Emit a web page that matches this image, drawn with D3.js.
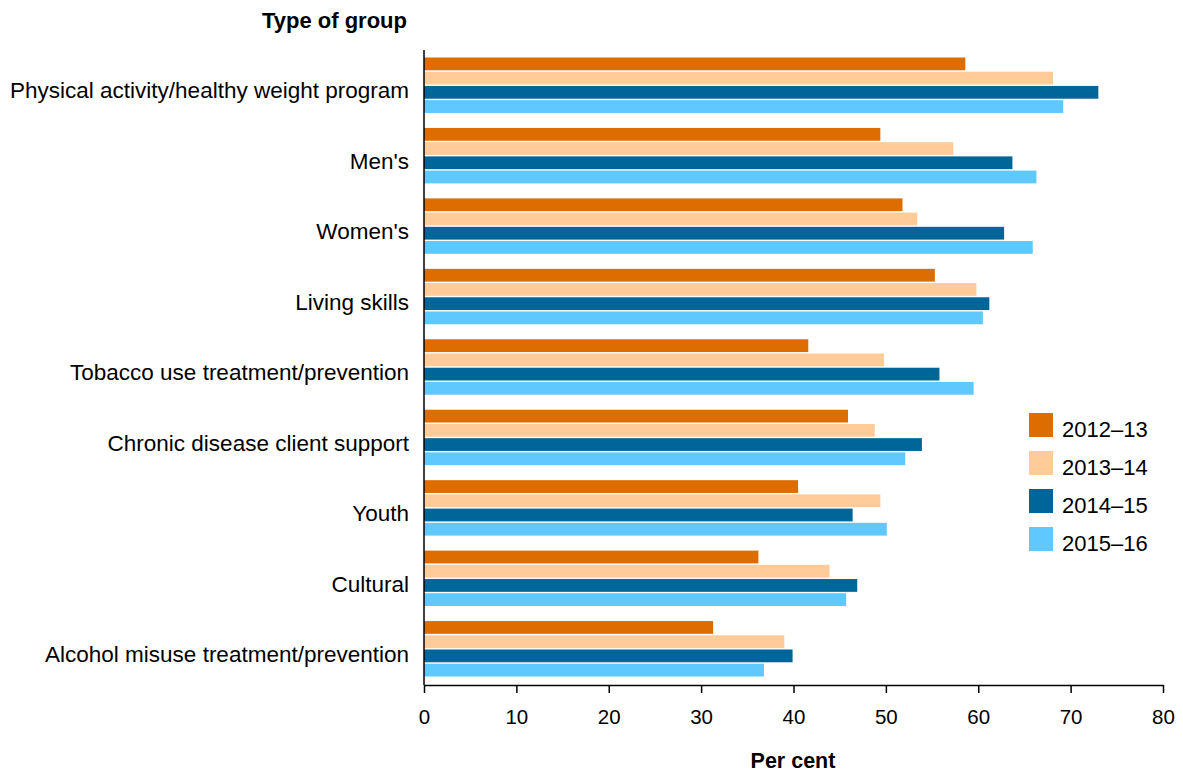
<!DOCTYPE html>
<html>
<head>
<meta charset="utf-8">
<title>Type of group</title>
<style>
body, html {
  margin: 0;
  background: #fff;
}
svg {
  font-family: "Liberation Sans", Arial, sans-serif;
}
.axis path, .axis line {
  stroke: #000;
  stroke-width: 1.5px;
}
.axis text {
  fill: #000;
}
</style>
</head>
<body>
<script src="https://cdn.jsdelivr.net/npm/d3@7/dist/d3.min.js"></script>
<script>
// data
var categories = [
  "Physical activity/healthy weight program",
  "Men's",
  "Women's",
  "Living skills",
  "Tobacco use treatment/prevention",
  "Chronic disease client support",
  "Youth",
  "Cultural",
  "Alcohol misuse treatment/prevention"
];
var years = ["2012\u201313", "2013\u201314", "2014\u201315", "2015\u201316"];
var v2012 = [58.6, 49.4, 51.8, 55.3, 41.6, 45.9, 40.5, 36.2, 31.3];
var v2013 = [68.1, 57.3, 53.4, 59.8, 49.8, 48.8, 49.4, 43.9, 39.0];
var v2014 = [73.0, 63.7, 62.8, 61.2, 55.8, 53.9, 46.4, 46.9, 39.9];
var v2015 = [69.2, 66.3, 65.9, 60.5, 59.5, 52.1, 50.1, 45.7, 36.8];
var xTicks = [0, 10, 20, 30, 40, 50, 60, 70, 80];
var colours = ["#dd6d00", "#ffcc99", "#006699", "#5fc8ff"];

var series = [v2012, v2013, v2014, v2015];

var width = 1183, height = 774;
var margin = {top: 50, left: 424, right: 20, bottom: 89};
var plotW = 1163 - margin.left;
var plotH = 684 - margin.top;

var svg = d3.select("body").append("svg")
    .attr("width", width)
    .attr("height", height);

var g = svg.append("g")
    .attr("transform", "translate(" + margin.left + "," + margin.top + ")");

var x = d3.scaleLinear().domain([0, 80]).range([0, plotW]);

var y0 = d3.scaleBand()
    .domain(categories)
    .range([0, plotH]);

var y1 = d3.scaleBand()
    .domain(years)
    .range([7.5, y0.bandwidth() - 7.5])
    .paddingInner(0.1);

var rows = categories.map(function(c, i) {
  return {cat: c, vals: years.map(function(yr, j) { return {year: yr, value: series[j][i], k: j}; })};
});

g.selectAll("g.grp")
    .data(rows)
  .enter().append("g")
    .attr("class", "grp")
    .attr("transform", function(d) { return "translate(0," + y0(d.cat) + ")"; })
  .selectAll("rect")
    .data(function(d) { return d.vals; })
  .enter().append("rect")
    .attr("x", 0)
    .attr("y", function(d) { return y1(d.year); })
    .attr("height", y1.bandwidth())
    .attr("width", function(d) { return x(d.value); })
    .attr("fill", function(d) { return colours[d.k]; });

// x axis
var xa = g.append("g")
    .attr("class", "axis")
    .attr("transform", "translate(0," + (plotH + 1) + ")")
    .call(d3.axisBottom(x).tickValues(xTicks).tickSize(8).tickSizeOuter(0).tickPadding(16));
xa.selectAll("text").style("font-size", "20.5px");

// y axis
var ya = g.append("g")
    .attr("class", "axis")
    .call(d3.axisLeft(y0).tickSize(0).tickSizeOuter(0).tickPadding(15));
ya.select(".domain").attr("d", "M0,0V" + (plotH + 1));
ya.selectAll("text")
    .style("font-size", "22.5px")
    .attr("dy", "0.52em")
    .attr("y", 1.5);

// axis titles
svg.append("text")
    .attr("x", 407)
    .attr("y", 28)
    .attr("text-anchor", "end")
    .style("font-size", "22px")
    .style("font-weight", "bold")
    .text("Type of group");

svg.append("text")
    .attr("x", 793)
    .attr("y", 768)
    .attr("text-anchor", "middle")
    .style("font-size", "21.5px")
    .style("font-weight", "bold")
    .text("Per cent");

// legend
var legend = svg.append("g")
    .attr("transform", "translate(1029,413)");

var li = legend.selectAll("g")
    .data(years)
  .enter().append("g")
    .attr("transform", function(d, i) { return "translate(0," + (i * 38) + ")"; });

li.append("rect")
    .attr("width", 24)
    .attr("height", 24)
    .attr("fill", function(d, i) { return colours[i]; });

li.append("text")
    .attr("x", 33)
    .attr("y", 24)
    .style("font-size", "22px")
    .text(function(d) { return d; });
</script>
</body>
</html>
